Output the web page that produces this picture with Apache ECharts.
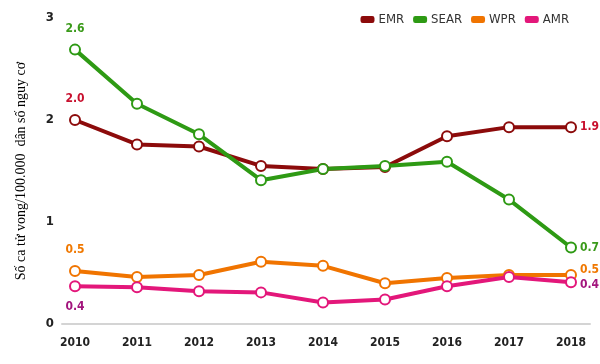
<!DOCTYPE html>
<html><head><meta charset="utf-8">
<script src="https://cdn.jsdelivr.net/npm/echarts@6/dist/echarts.min.js"></script>
<style>html,body{margin:0;padding:0;background:#fff}#c{width:600px;height:364px}</style>
</head><body><div id="c"></div>
<script>
var years = ['2010','2011','2012','2013','2014','2015','2016','2017','2018'];
var emr  = [2.00, 1.76, 1.74, 1.55, 1.52, 1.54, 1.84, 1.93, 1.93];
var sear = [2.69, 2.16, 1.86, 1.41, 1.52, 1.55, 1.59, 1.22, 0.75];
var wpr  = [0.52, 0.46, 0.48, 0.61, 0.57, 0.40, 0.45, 0.48, 0.48];
var amr  = [0.37, 0.36, 0.32, 0.31, 0.21, 0.24, 0.37, 0.46, 0.41];
var firstLabels = {EMR:'2.0', SEAR:'2.6', WPR:'0.5', AMR:'0.4'};
var lastLabels  = {EMR:'1.9', SEAR:'0.7', WPR:'0.5', AMR:'0.4'};
var yTicks = [0, 1, 2, 3];

var FONT = '"DejaVu Sans Condensed", "Liberation Sans Narrow", "Roboto", sans-serif';
function mk(name, data, color, labelColor, firstPos) {
  return {
    name: name, type: 'line', data: data.map(function (v, i) {
      var item = {value: v};
      if (i === 0) item.label = {show: true, position: firstPos, distance: 9, formatter: firstLabels[name]};
      if (i === data.length - 1) item.label = {show: true, position: 'right', distance: 3, formatter: lastLabels[name],
        offset: name === 'WPR' ? [0, -5] : (name === 'AMR' ? [0, 3] : [0, 0])};
      return item;
    }),
    xAxisIndex: 0, yAxisIndex: 0,
    symbol: 'emptyCircle', symbolSize: 10, showAllSymbol: true,
    lineStyle: {color: color, width: 4},
    itemStyle: {color: color, borderColor: color, borderWidth: 4},
    label: {show: false, color: labelColor, fontFamily: FONT, fontWeight: 'bold', fontSize: 12},
    emphasis: {disabled: true}, animation: false
  };
}
var chart = echarts.init(document.getElementById('c'));
chart.setOption({
  animation: false,
  legend: {
    top: 8, right: 26, itemWidth: 12, itemHeight: 5, itemGap: 9,
    icon: 'roundRect',
    textStyle: {color: '#333', fontFamily: FONT, fontSize: 13},
    data: ['EMR', 'SEAR', 'WPR', 'AMR']
  },
  grid: [
    {left: 75, right: 29, top: 18, bottom: 40},
    {left: 62, right: 10, top: 18, bottom: 40}
  ],
  xAxis: [
    {type: 'category', gridIndex: 0, data: years, boundaryGap: false,
     axisLine: {show: false}, axisTick: {show: false},
     axisLabel: {color: '#222', fontFamily: FONT, fontWeight: 'bold', fontSize: 12, margin: 13}},
    {type: 'value', gridIndex: 1, min: 0, max: 1, show: true,
     axisLine: {show: true, lineStyle: {color: '#d4d4d4', width: 2}},
     axisTick: {show: false}, axisLabel: {show: false}, splitLine: {show: false}}
  ],
  yAxis: [
    {type: 'value', gridIndex: 0, min: yTicks[0], max: yTicks[yTicks.length - 1], interval: 1,
     splitLine: {show: false}, axisLine: {show: false}, axisTick: {show: false},
     axisLabel: {color: '#222', fontFamily: FONT, fontWeight: 'bold', fontSize: 13, margin: 21},
     name: 'Số ca tử vong/100.000  dân số nguy cơ', nameLocation: 'middle', nameGap: 47,
     nameTextStyle: {color: '#000', fontFamily: '"Liberation Serif", "DejaVu Serif", serif', fontSize: 14}},
    {type: 'value', gridIndex: 1, min: 0, max: 3, show: false}
  ],
  series: [
    mk('EMR', emr, '#8c0b0b', '#c8102e', 'top'),
    mk('SEAR', sear, '#2e9a14', '#3a9a1a', 'top'),
    mk('WPR', wpr, '#f07400', '#f07800', 'top'),
    mk('AMR', amr, '#e3177a', '#a3157d', 'bottom')
  ]
});
</script></body></html>
